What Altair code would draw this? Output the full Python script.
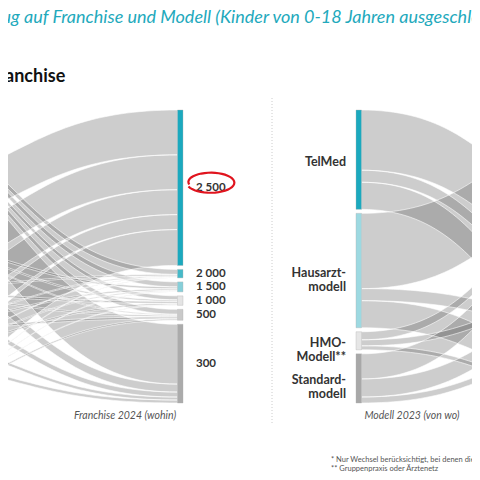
import math
import altair as alt
import pandas as pd

# ---------------- data ----------------
# Left panel: Franchise 2023 (von wo, off-canvas) -> Franchise 2024 (wohin)
franchise_levels = ["2\u202f500", "2\u202f000", "1\u202f500", "1\u202f000", "500", "300"]
# rows = Franchise 2023 (source), cols = Franchise 2024 (target); only changes
franchise_flows = [
    [0, 5, 5, 4, 5, 60],
    [45, 0, 2, 1.5, 1, 8],
    [35, 1.5, 0, 2, 1.5, 5],
    [25, 1, 1.5, 0, 2, 3],
    [15, 0.5, 1, 1.5, 0, 3],
    [36, 0.5, 0.5, 0.5, 1.5, 0],
]
franchise_colors = ["#1ba9be", "#45b9c8", "#86cfd9", "#e4e4e4", "#c9c9c9", "#ababab"]

# Right panel: Modell 2023 (von wo) -> Modell 2024 (wohin, off-canvas)
model_levels = ["TelMed", "Hausarzt-\nmodell", "HMO-\nModell**", "Standard-\nmodell"]
model_flows = [
    [0, 60, 12, 27],
    [75, 0, 12, 27],
    [8, 6, 0, 4],
    [25, 18, 6, 0],
]
model_colors = ["#1ba9be", "#9dd9e1", "#e6e6e6", "#a8a8a8"]

title_text = "Wechsel in Bezug auf Franchise und Modell (Kinder von 0-18 Jahren ausgeschlossen)*"
subtitle_text = "Franchise"
axis_left = "Franchise 2024 (wohin)"
axis_right = "Modell 2023 (von wo)"
notes = ["* Nur Wechsel berücksichtigt, bei denen die Franchise bzw. das Modell geändert wurde",
         "** Gruppenpraxis oder Ärztenetz"]

# ---------------- layout ----------------
TOP, BOTTOM, GAP = 110, 403, 4
NODE_W = 5.5


def stack(sizes):
    k = (BOTTOM - TOP - GAP * (len(sizes) - 1)) / sum(sizes)
    pos, y = [], TOP
    for s in sizes:
        pos.append((y, y + s * k))
        y += s * k + GAP
    return pos, k


def links(flows, src_pos, dst_pos, k, x0, x1, panel):
    n = len(flows)
    s_off = [p[0] for p in src_pos]
    d_off = [p[0] for p in dst_pos]
    segs = {}
    for i in range(n):
        for j in range(n):
            v = flows[i][j]
            if v <= 0:
                continue
            segs[(i, j)] = [s_off[i], s_off[i] + v * k]
            s_off[i] += v * k
    for j in range(n):
        for i in range(n):
            if (i, j) in segs:
                v = flows[i][j]
                segs[(i, j)] += [d_off[j], d_off[j] + v * k]
                d_off[j] += v * k
    rows = []
    steps = 60
    for (i, j), (sa, sb, da, db) in segs.items():
        for s in range(steps + 1):
            t = s / steps
            fx = 1.5 * t * (1 - t) + t ** 3
            fy = 3 * t ** 2 - 2 * t ** 3
            rows.append({"id": f"{panel}-{i}-{j}",
                         "x": x0 + (x1 - x0) * fx,
                         "y": sa + (da - sa) * fy,
                         "y2": sb + (db - sb) * fy})
    return rows


# left panel
fr_src = [sum(r) for r in franchise_flows]
fr_dst = [sum(franchise_flows[i][j] for i in range(6)) for j in range(6)]
fr_src_pos, k1 = stack(fr_src)
fr_dst_pos, _ = stack(fr_dst)
LX_SRC, LX_DST = -150, 177.5
link_rows = links(franchise_flows, fr_src_pos, fr_dst_pos, k1, LX_SRC, LX_DST, "F")

# right panel
md_src = [sum(r) for r in model_flows]
md_dst = [sum(model_flows[i][j] for i in range(4)) for j in range(4)]
md_src_pos, k2 = stack(md_src)
md_dst_pos, _ = stack(md_dst)
RX_SRC, RX_DST = 356 + NODE_W, 640
link_rows += links(model_flows, md_src_pos, md_dst_pos, k2, RX_SRC, RX_DST, "M")
links_df = pd.DataFrame(link_rows)

edges_df = pd.concat([
    links_df[["id", "x", "y"]].assign(e=links_df["id"] + "-a"),
    links_df[["id", "x", "y2"]].rename(columns={"y2": "y"}).assign(e=links_df["id"] + "-b"),
])

node_rows = []
for lvl, (a, b), c in zip(franchise_levels, fr_dst_pos, franchise_colors):
    node_rows.append({"x": LX_DST, "x2": LX_DST + NODE_W, "y": a, "y2": b, "c": c})
for lvl, (a, b), c in zip(model_levels, md_src_pos, model_colors):
    node_rows.append({"x": 356, "x2": 356 + NODE_W, "y": a, "y2": b, "c": c})
nodes_df = pd.DataFrame(node_rows)

lab_left = pd.DataFrame([{"x": LX_DST + NODE_W + 13, "y": (a + b) / 2, "t": l}
                         for l, (a, b) in zip(franchise_levels, fr_dst_pos)])
lab_right = pd.DataFrame([{"x": 346, "y": (a + b) / 2 + 2, "t": l}
                          for l, (a, b) in zip(model_levels, md_src_pos)])

# scales in page pixels (chart starts at the 8px page margin)
XS = alt.Scale(domain=[8, 472], nice=False, zero=False)
YS = alt.Scale(domain=[8, 472], nice=False, zero=False, reverse=True)
X = lambda f="x": alt.X(f"{f}:Q", scale=XS, axis=None)
Y = lambda f="y": alt.Y(f"{f}:Q", scale=YS, axis=None)

band = alt.Chart(links_df).mark_area(
    clip=True, fill="#666666", fillOpacity=0.33
).encode(x=X(), y=Y(), y2="y2:Q", detail="id:N")

edge = alt.Chart(edges_df).mark_line(
    clip=True, color="white", strokeWidth=0.7, opacity=0.85
).encode(x=X(), y=Y(), detail="e:N")

node = alt.Chart(nodes_df).mark_rect(strokeWidth=0.6, stroke="#b0b0b0", strokeOpacity=0.6).encode(
    x=X(), x2="x2:Q", y=Y(), y2="y2:Q", color=alt.Color("c:N", scale=None))

font = "Lato"
lbl_l = alt.Chart(lab_left).mark_text(align="left", baseline="middle", font=font,
                                      fontWeight="bold", fontSize=11.5, color="#333333").encode(
    x=X(), y=Y(), text="t:N")
lbl_r = alt.Chart(lab_right).mark_text(align="right", baseline="middle", font=font,
                                       fontWeight="bold", fontSize=12.5, color="#333333",
                                       lineBreak="\n", lineHeight=14).encode(
    x=X(), y=Y(), text="t:N")

title = alt.Chart(pd.DataFrame({"x": [-110], "y": [18], "t": [title_text]})).mark_text(
    align="left", baseline="middle", font=font, fontStyle="italic", fontSize=18,
    color="#22a9bc").encode(x=X(), y=Y(), text="t:N")
subtitle = alt.Chart(pd.DataFrame({"x": [-11], "y": [77], "t": [subtitle_text]})).mark_text(
    align="left", baseline="middle", font=font, fontWeight="bold", fontSize=18,
    color="#111111").encode(x=X(), y=Y(), text="t:N")
axes = alt.Chart(pd.DataFrame({"x": [125, 412], "y": [416, 416], "t": [axis_left, axis_right]})).mark_text(
    align="center", baseline="middle", font=font, fontStyle="italic", fontSize=10.5,
    color="#555555").encode(x=X(), y=Y(), text="t:N")
foot = alt.Chart(pd.DataFrame({"x": [331, 331], "y": [460, 469], "t": notes})).mark_text(
    align="left", baseline="middle", font=font, fontSize=7.5,
    color="#555555").encode(x=X(), y=Y(), text="t:N")
divider = alt.Chart(pd.DataFrame({"x": [272], "y": [98], "y2": [425]})).mark_rule(
    color="#cccccc", strokeDash=[1, 2], strokeWidth=1).encode(x=X(), y=Y(), y2="y2:Q")

# hand-drawn circle around 2 500
pts = []
for s in range(41):
    a = math.radians(200 + 355 * s / 40)
    r = 1.0 - 0.06 * s / 40
    pts.append((r * math.cos(a), 0.42 * r * math.sin(a) + 0.04 * s / 40))
path = "M " + " L ".join(f"{px:.3f} {-py:.3f}" for px, py in pts)
circle = alt.Chart(pd.DataFrame({"x": [211], "y": [183]})).mark_point(
    shape=path, size=48 * 48, filled=False, stroke="#e0141e", strokeWidth=2.2, opacity=1
).encode(x=X(), y=Y())

chart = alt.layer(band, edge, node, lbl_l, lbl_r, title, subtitle, axes, foot, divider, circle).properties(
    width=464, height=464, autosize=alt.AutoSizeParams(type="none"), padding=0
).configure_view(stroke=None)

chart.save("out.html", embed_options={"renderer": "svg", "actions": False})
